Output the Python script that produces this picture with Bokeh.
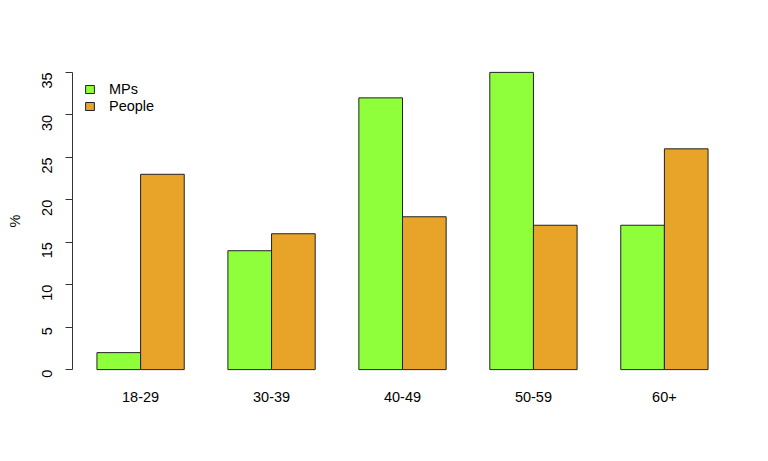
import math
from bokeh.plotting import figure
from bokeh.models import Range1d, FixedTicker, Legend, LegendItem, ColumnDataSource
from bokeh.embed import file_html
from bokeh.resources import INLINE

groups = ["18-29", "30-39", "40-49", "50-59", "60+"]
mps = [2, 14, 32, 35, 17]
people = [23, 16, 18, 17, 26]
y_ticks = [0, 5, 10, 15, 20, 25, 30, 35]
series_names = ["MPs", "People"]
colors = ["#8FFF3C", "#E8A329"]

FONT = "Liberation Sans"
FS = "14.5px"

# R barplot(beside=TRUE) geometry: bar width 1, space 1 between groups
n = len(groups)
x_mps = [1.5 + 3 * i for i in range(n)]
x_people = [2.5 + 3 * i for i in range(n)]
x_centers = [2.0 + 3 * i for i in range(n)]
x_lo, x_hi = 1.0, 3.0 * n
x_pad = 0.04 * (x_hi - x_lo)
y_lo, y_hi = 0.0, float(max(max(mps), max(people)))
y_pad = 0.04 * (y_hi - y_lo)

p = figure(width=760, height=453, output_backend="svg", toolbar_location=None,
           x_range=Range1d(x_lo - x_pad, x_hi + x_pad),
           y_range=Range1d(y_lo - y_pad, y_hi + y_pad),
           min_border_left=72, min_border_right=28, min_border_top=60, min_border_bottom=72)
p.outline_line_color = None
p.grid.visible = False
p.background_fill_color = "white"
p.border_fill_color = "white"

src_m = ColumnDataSource(dict(x=x_mps, top=mps))
src_p = ColumnDataSource(dict(x=x_people, top=people))
r1 = p.vbar(x="x", top="top", bottom=0, width=1, source=src_m,
            fill_color=colors[0], line_color="#222222", line_width=1)
r2 = p.vbar(x="x", top="top", bottom=0, width=1, source=src_p,
            fill_color=colors[1], line_color="#222222", line_width=1)

# y axis
ya = p.yaxis[0]
ya.ticker = FixedTicker(ticks=y_ticks)
ya.bounds = (y_ticks[0], y_ticks[-1])
ya.axis_line_color = "#333333"
ya.major_tick_line_color = "#333333"
ya.major_tick_out = 7
ya.major_tick_in = 0
ya.minor_tick_line_color = None
ya.major_label_orientation = math.pi / 2
ya.major_label_standoff = 18
ya.major_label_text_font = FONT
ya.major_label_text_font_size = FS
ya.major_label_text_color = "black"
ya.axis_label = "%"
ya.axis_label_text_font = FONT
ya.axis_label_text_font_size = FS
ya.axis_label_text_font_style = "normal"
ya.axis_label_text_color = "black"
ya.axis_label_standoff = 12

# x axis (names only)
xa = p.xaxis[0]
xa.ticker = FixedTicker(ticks=x_centers)
xa.major_label_overrides = {x: g for x, g in zip(x_centers, groups)}
xa.axis_line_color = None
xa.major_tick_line_color = None
xa.minor_tick_line_color = None
xa.major_label_standoff = 4
xa.major_label_text_font = FONT
xa.major_label_text_font_size = FS
xa.major_label_text_color = "black"

legend = Legend(items=[LegendItem(label=series_names[0], renderers=[r1]),
                       LegendItem(label=series_names[1], renderers=[r2])],
                location=(12, 267))
legend.border_line_color = None
legend.background_fill_alpha = 0
legend.padding = 0
legend.margin = 0
legend.spacing = 0
legend.glyph_width = 11
legend.glyph_height = 10
legend.label_standoff = 14
legend.label_text_font = FONT
legend.label_text_font_size = FS
legend.label_text_color = "black"
legend.label_height = 17
p.add_layout(legend)

open("out.html", "w").write(file_html(p, INLINE))
